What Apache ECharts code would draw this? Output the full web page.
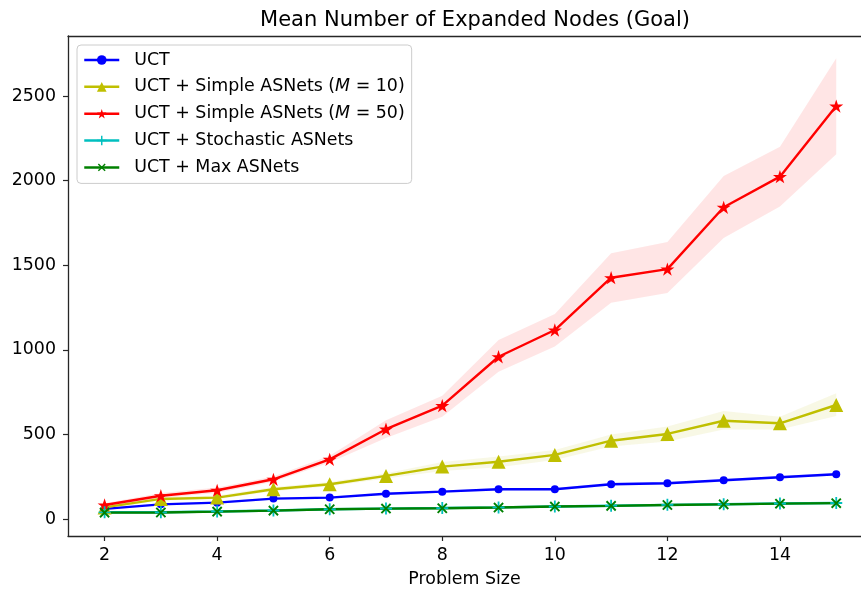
<!DOCTYPE html>
<html><head><meta charset="utf-8">
<script src="https://cdn.jsdelivr.net/npm/echarts@6/dist/echarts.min.js"></script>
<style>html,body{margin:0;padding:0;background:#fff}#c{width:861px;height:590px}</style>
</head><body><div id="c"></div>
<script>
var sizes = [2,3,4,5,6,7,8,9,10,11,12,13,14,15];
var uct   = [61, 88, 98, 122, 128, 151, 163, 177, 177, 207, 213, 230, 248, 266];
var uctLo = [55, 82, 92, 115, 121, 144, 156, 170, 170, 199, 205, 222, 240, 258];
var uctHi = [67, 94, 104, 129, 135, 158, 170, 184, 184, 215, 221, 238, 256, 274];
var m10   = [70, 120, 128, 177, 207, 256, 311, 340, 380, 464, 504, 582, 567, 675];
var m10Lo = [62, 110, 118, 165, 195, 240, 285, 307, 350, 430, 460, 530, 530, 610];
var m10Hi = [80, 130, 140, 190, 220, 272, 338, 370, 409, 500, 548, 640, 605, 745];
var m50   = [84, 139, 171, 236, 354, 532, 671, 960, 1118, 1427, 1478, 1843, 2024, 2441];
var m50Lo = [75, 125, 155, 222, 335, 480, 606, 872, 1020, 1279, 1337, 1661, 1847, 2156];
var m50Hi = [95, 155, 188, 252, 375, 585, 730, 1059, 1213, 1571, 1638, 2028, 2201, 2723];
var stoch   = [41, 41, 46, 52, 59, 63, 66, 70, 75, 80, 85, 89, 93, 96];
var stochLo = [37, 37, 42, 48, 55, 59, 62, 66, 71, 76, 81, 85, 89, 92];
var stochHi = [45, 45, 50, 56, 63, 67, 70, 74, 79, 84, 89, 93, 97, 100];
var maxA   = [39, 40, 45, 51, 59, 63, 65, 69, 75, 79, 84, 88, 92, 95];
var maxLo  = [35, 36, 41, 47, 55, 59, 61, 65, 71, 75, 80, 84, 88, 91];
var maxHi  = [43, 44, 49, 55, 63, 67, 69, 73, 79, 83, 88, 92, 96, 99];
var xTicks = [2,4,6,8,10,12,14];
var yTicks = [0,500,1000,1500,2000,2500];
var names = ['UCT','UCT + Simple ASNets (M = 10)','UCT + Simple ASNets (M = 50)','UCT + Stochastic ASNets','UCT + Max ASNets'];

var FONT = 'DejaVu Sans';
var FS = 17.4;
var STAR = 'path://M0,-1 L0.2245,-0.309 L0.951,-0.309 L0.363,0.118 L0.588,0.809 L0,0.382 L-0.588,0.809 L-0.363,0.118 L-0.951,-0.309 L-0.2245,-0.309 Z';
var PLUS = 'path://M-0.15,-1 L0.15,-1 L0.15,-0.15 L1,-0.15 L1,0.15 L0.15,0.15 L0.15,1 L-0.15,1 L-0.15,0.15 L-1,0.15 L-1,-0.15 L-0.15,-0.15 Z';

function pairs(v){ return sizes.map(function(x,i){ return [x, v[i]]; }); }
function band(lo, hi, color){
  return {
    type:'custom', silent:true, z:1,
    data: sizes.map(function(x,i){ return [x, lo[i], hi[i]]; }),
    encode:{x:0, y:[1,2]},
    renderItem:function(params, api){
      if (params.dataIndex !== 0) return null;
      var pts = [];
      for (var i=0;i<sizes.length;i++) pts.push(api.coord([sizes[i], hi[i]]));
      for (var j=sizes.length-1;j>=0;j--) pts.push(api.coord([sizes[j], lo[j]]));
      return {type:'polygon', shape:{points:pts}, style:{fill:color}};
    }
  };
}
function line(name, v, color, symbol, size, extra){
  var s = {
    name:name, type:'line', data:pairs(v), z:3,
    lineStyle:{color:color, width:2.4},
    itemStyle:{color:color},
    symbol:symbol, symbolSize:size, symbolKeepAspect:true, showAllSymbol:true
  };
  if (extra) for (var k in extra) s[k]=extra[k];
  return s;
}

var chart = echarts.init(document.getElementById('c'), null, {renderer:'canvas'});
chart.setOption({
  animation:false,
  backgroundColor:'#fff',
  title:{
    text:'Mean Number of Expanded Nodes (Goal)',
    left:470, top:5, textAlign:'center',
    textStyle:{fontFamily:FONT, fontSize:21, fontWeight:'normal', color:'#000'}
  },
  grid:{left:68, top:36, right:0, bottom:54, show:false, containLabel:false, outerBoundsMode:'none'},
  xAxis:[{
    type:'value', min:1.35, max:15.44,
    name:'Problem Size', nameLocation:'middle', nameGap:35, nameTextStyle:{fontFamily:FONT, fontSize:FS, color:'#000'},
    axisLine:{show:true, onZero:false, lineStyle:{color:'#262626', width:1.3}},
    axisTick:{show:true, customValues:xTicks, length:5, inside:false, lineStyle:{color:'#262626', width:1.2}},
    axisLabel:{customValues:xTicks, margin:11, fontFamily:FONT, fontSize:FS, color:'#000'},
    splitLine:{show:false}
  },{
    type:'value', position:'top', min:1.35, max:15.44,
    axisLine:{show:true, onZero:false, lineStyle:{color:'#262626', width:1.3}},
    axisTick:{show:false}, axisLabel:{show:false}, splitLine:{show:false}
  }],
  yAxis:{
    type:'value', min:-99, max:2855,
    axisLine:{show:true, onZero:false, lineStyle:{color:'#262626', width:1.3}},
    axisTick:{show:true, customValues:yTicks, length:5, inside:false, lineStyle:{color:'#262626', width:1.2}},
    axisLabel:{customValues:yTicks, margin:12, fontFamily:FONT, fontSize:FS, color:'#000', padding:[3,0,0,0],
      formatter:function(v){ return String(v); }},
    splitLine:{show:false}
  },
  legend:{
    data:names, orient:'vertical', left:77, top:45,
    padding:[5,7,6,6], itemGap:6.85, itemWidth:35, itemHeight:12,
    lineStyle:{width:2.5},
    backgroundColor:'rgba(255,255,255,0.8)', borderColor:'#cccccc', borderWidth:1, borderRadius:4,
    textStyle:{fontFamily:FONT, fontSize:FS, color:'#000', lineHeight:20, padding:[0,0,0,10],
      rich:{i:{fontFamily:FONT, fontSize:FS, fontStyle:'italic', color:'#000', lineHeight:20}}},
    formatter:function(n){ return n.replace('(M = ', '({i|M} = '); }
  },
  series:[
    band(uctLo, uctHi, 'rgba(0,0,255,0.1)'),
    line(names[0], uct, '#0000ff', 'circle', 8),
    band(m10Lo, m10Hi, 'rgba(191,191,0,0.1)'),
    line(names[1], m10, '#bfbf00', 'triangle', 14),
    band(m50Lo, m50Hi, 'rgba(255,0,0,0.1)'),
    line(names[2], m50, '#ff0000', STAR, 14),
    band(stochLo, stochHi, 'rgba(0,191,191,0.1)'),
    line(names[3], stoch, '#00bfbf', PLUS, 12),
    band(maxLo, maxHi, 'rgba(0,128,0,0.1)'),
    line(names[4], maxA, '#008000', PLUS, 13, {symbolRotate:45})
  ]
});
</script>
</body></html>
